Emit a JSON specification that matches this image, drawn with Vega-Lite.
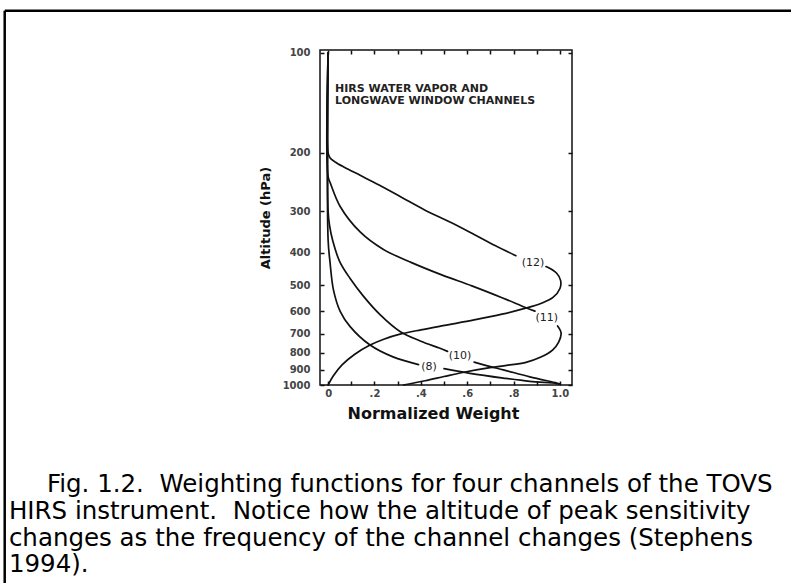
{
  "$schema": "https://vega.github.io/schema/vega-lite/v6.json",
  "width": 252,
  "height": 335,
  "autosize": "none",
  "padding": {"left": 320, "top": 50, "right": 219, "bottom": 198},
  "background": "white",
  "config": {
    "font": "DejaVu Sans",
    "view": {"stroke": "#111", "strokeWidth": 1.5}
  },
  "resolve": {"axis": {"x": "independent", "y": "independent"}},
  "layer": [
    {
      "data": {
        "values": [
          {"ch": "12", "s": "12a", "i": 0, "w": 0, "p": 100},
          {"ch": "12", "s": "12a", "i": 1, "w": 0, "p": 200},
          {"ch": "12", "s": "12a", "i": 2, "w": 0.008, "p": 207},
          {"ch": "12", "s": "12a", "i": 3, "w": 0.03, "p": 213},
          {"ch": "12", "s": "12a", "i": 4, "w": 0.07, "p": 221},
          {"ch": "12", "s": "12a", "i": 5, "w": 0.14, "p": 234},
          {"ch": "12", "s": "12a", "i": 6, "w": 0.22, "p": 250},
          {"ch": "12", "s": "12a", "i": 7, "w": 0.32, "p": 273},
          {"ch": "12", "s": "12a", "i": 8, "w": 0.42, "p": 298},
          {"ch": "12", "s": "12a", "i": 9, "w": 0.53, "p": 324},
          {"ch": "12", "s": "12a", "i": 10, "w": 0.63, "p": 352},
          {"ch": "12", "s": "12a", "i": 11, "w": 0.72, "p": 380},
          {"ch": "12", "s": "12a", "i": 12, "w": 0.81, "p": 408},
          {"ch": "12", "s": "12b", "i": 13, "w": 0.94, "p": 440},
          {"ch": "12", "s": "12b", "i": 14, "w": 0.985, "p": 460},
          {"ch": "12", "s": "12b", "i": 15, "w": 1.003, "p": 485},
          {"ch": "12", "s": "12b", "i": 16, "w": 1.0, "p": 512},
          {"ch": "12", "s": "12b", "i": 17, "w": 0.97, "p": 545},
          {"ch": "12", "s": "12b", "i": 18, "w": 0.92, "p": 567},
          {"ch": "12", "s": "12b", "i": 19, "w": 0.856, "p": 586},
          {"ch": "12", "s": "12b", "i": 20, "w": 0.75, "p": 612},
          {"ch": "12", "s": "12b", "i": 21, "w": 0.63, "p": 637},
          {"ch": "12", "s": "12b", "i": 22, "w": 0.51, "p": 660},
          {"ch": "12", "s": "12b", "i": 23, "w": 0.4, "p": 682},
          {"ch": "12", "s": "12b", "i": 24, "w": 0.31, "p": 703},
          {"ch": "12", "s": "12b", "i": 25, "w": 0.24, "p": 728},
          {"ch": "12", "s": "12b", "i": 26, "w": 0.181, "p": 758},
          {"ch": "12", "s": "12b", "i": 27, "w": 0.115, "p": 808},
          {"ch": "12", "s": "12b", "i": 28, "w": 0.06, "p": 870},
          {"ch": "12", "s": "12b", "i": 29, "w": 0.022, "p": 940},
          {"ch": "12", "s": "12b", "i": 30, "w": 0, "p": 1000},

          {"ch": "11", "s": "11a", "i": 0, "w": 0, "p": 100},
          {"ch": "11", "s": "11a", "i": 1, "w": 0, "p": 236},
          {"ch": "11", "s": "11a", "i": 2, "w": 0.01, "p": 247},
          {"ch": "11", "s": "11a", "i": 3, "w": 0.052, "p": 290},
          {"ch": "11", "s": "11a", "i": 4, "w": 0.138, "p": 346},
          {"ch": "11", "s": "11a", "i": 5, "w": 0.237, "p": 390},
          {"ch": "11", "s": "11a", "i": 6, "w": 0.36, "p": 428},
          {"ch": "11", "s": "11a", "i": 7, "w": 0.49, "p": 466},
          {"ch": "11", "s": "11a", "i": 8, "w": 0.62, "p": 503},
          {"ch": "11", "s": "11a", "i": 9, "w": 0.75, "p": 546},
          {"ch": "11", "s": "11a", "i": 10, "w": 0.856, "p": 586},
          {"ch": "11", "s": "11a", "i": 11, "w": 0.892, "p": 599},
          {"ch": "11", "s": "11b", "i": 12, "w": 0.99, "p": 664},
          {"ch": "11", "s": "11b", "i": 13, "w": 1.005, "p": 697},
          {"ch": "11", "s": "11b", "i": 14, "w": 0.995, "p": 741},
          {"ch": "11", "s": "11b", "i": 15, "w": 0.968, "p": 785},
          {"ch": "11", "s": "11b", "i": 16, "w": 0.918, "p": 824},
          {"ch": "11", "s": "11b", "i": 17, "w": 0.85, "p": 856},
          {"ch": "11", "s": "11b", "i": 18, "w": 0.77, "p": 873},
          {"ch": "11", "s": "11b", "i": 19, "w": 0.698, "p": 887},
          {"ch": "11", "s": "11b", "i": 20, "w": 0.58, "p": 917},
          {"ch": "11", "s": "11b", "i": 21, "w": 0.5, "p": 943},
          {"ch": "11", "s": "11b", "i": 22, "w": 0.418, "p": 971},
          {"ch": "11", "s": "11b", "i": 23, "w": 0.325, "p": 1000},

          {"ch": "10", "s": "10a", "i": 0, "w": 0, "p": 100},
          {"ch": "10", "s": "10a", "i": 1, "w": 0, "p": 300},
          {"ch": "10", "s": "10a", "i": 2, "w": 0.006, "p": 330},
          {"ch": "10", "s": "10a", "i": 3, "w": 0.02, "p": 368},
          {"ch": "10", "s": "10a", "i": 4, "w": 0.05, "p": 425},
          {"ch": "10", "s": "10a", "i": 5, "w": 0.095, "p": 478},
          {"ch": "10", "s": "10a", "i": 6, "w": 0.152, "p": 540},
          {"ch": "10", "s": "10a", "i": 7, "w": 0.224, "p": 614},
          {"ch": "10", "s": "10a", "i": 8, "w": 0.31, "p": 690},
          {"ch": "10", "s": "10a", "i": 9, "w": 0.4, "p": 738},
          {"ch": "10", "s": "10a", "i": 10, "w": 0.48, "p": 774},
          {"ch": "10", "s": "10a", "i": 11, "w": 0.515, "p": 792},
          {"ch": "10", "s": "10b", "i": 12, "w": 0.63, "p": 853},
          {"ch": "10", "s": "10b", "i": 13, "w": 0.7, "p": 880},
          {"ch": "10", "s": "10b", "i": 14, "w": 0.756, "p": 900},
          {"ch": "10", "s": "10b", "i": 15, "w": 0.87, "p": 945},
          {"ch": "10", "s": "10b", "i": 16, "w": 0.986, "p": 986},
          {"ch": "10", "s": "10b", "i": 17, "w": 1.0, "p": 992},

          {"ch": "8", "s": "8a", "i": 0, "w": 0, "p": 100},
          {"ch": "8", "s": "8a", "i": 1, "w": 0, "p": 366},
          {"ch": "8", "s": "8a", "i": 2, "w": 0.008, "p": 425},
          {"ch": "8", "s": "8a", "i": 3, "w": 0.023, "p": 517},
          {"ch": "8", "s": "8a", "i": 4, "w": 0.052, "p": 600},
          {"ch": "8", "s": "8a", "i": 5, "w": 0.095, "p": 667},
          {"ch": "8", "s": "8a", "i": 6, "w": 0.181, "p": 758},
          {"ch": "8", "s": "8a", "i": 7, "w": 0.28, "p": 823},
          {"ch": "8", "s": "8a", "i": 8, "w": 0.39, "p": 868},
          {"ch": "8", "s": "8b", "i": 9, "w": 0.5, "p": 893},
          {"ch": "8", "s": "8b", "i": 10, "w": 0.612, "p": 922},
          {"ch": "8", "s": "8b", "i": 11, "w": 0.756, "p": 953},
          {"ch": "8", "s": "8b", "i": 12, "w": 0.87, "p": 975},
          {"ch": "8", "s": "8b", "i": 13, "w": 0.986, "p": 990},
          {"ch": "8", "s": "8b", "i": 14, "w": 1.0, "p": 995}
        ]
      },
      "mark": {"type": "line", "color": "#111", "strokeWidth": 1.7, "strokeJoin": "round", "strokeCap": "round", "interpolate": "catmull-rom"},
      "encoding": {
        "x": {
          "field": "w",
          "type": "quantitative",
          "scale": {"domain": [-0.035, 1.052], "nice": false, "zero": false},
          "axis": {
            "orient": "bottom",
            "values": [0, 0.1, 0.2, 0.3, 0.4, 0.5, 0.6, 0.7, 0.8, 0.9, 1.0],
            "labelExpr": "datum.value == 0 ? '0' : datum.value == 1 ? '1.0' : (round(datum.value * 10) % 2 == 0 ? '.' + round(datum.value * 10) : '')",
            "domain": false,
            "grid": false,
            "tickSize": -4,
            "tickColor": "#111",
            "tickWidth": 1.5,
            "labelPadding": 7,
            "labelFont": "DejaVu Sans",
            "labelFontSize": 10,
            "labelFontWeight": "bold",
            "labelColor": "#444",
            "labelFlush": false,
            "title": "Normalized Weight",
            "titleFont": "DejaVu Sans",
            "titleFontSize": 16,
            "titleFontWeight": "bold",
            "titleColor": "#111",
            "titleX": 113,
            "titleY": 28,
            "titleBaseline": "middle"
          }
        },
        "y": {
          "field": "p",
          "type": "quantitative",
          "scale": {"type": "log", "domain": [98, 1000], "nice": false, "reverse": true},
          "axis": {
            "orient": "left",
            "values": [100, 200, 300, 400, 500, 600, 700, 800, 900, 1000],
            "format": "d",
            "domain": false,
            "grid": false,
            "tickSize": -4,
            "tickColor": "#111",
            "tickWidth": 1.5,
            "labelPadding": 14,
            "labelFont": "DejaVu Sans",
            "labelFontSize": 10,
            "labelFontWeight": "bold",
            "labelColor": "#444",
            "labelFlush": false,
            "title": "Altitude (hPa)",
            "titleFont": "DejaVu Sans",
            "titleFontSize": 13,
            "titleFontWeight": "bold",
            "titleColor": "#111",
            "titlePadding": 10
          }
        },
        "detail": {"field": "s"},
        "order": {"field": "i", "type": "quantitative"}
      }
    },
    {
      "data": {
        "values": [
          {"w": 0.884, "p": 429, "t": "(12)"},
          {"w": 0.943, "p": 630, "t": "(11)"},
          {"w": 0.569, "p": 820, "t": "(10)"},
          {"w": 0.435, "p": 881, "t": "(8)"}
        ]
      },
      "mark": {"type": "text", "font": "DejaVu Sans", "fontSize": 11, "color": "#222", "align": "center", "baseline": "middle"},
      "encoding": {
        "x": {
          "field": "w",
          "type": "quantitative",
          "axis": {
            "orient": "top",
            "values": [0, 0.1, 0.2, 0.3, 0.4, 0.5, 0.6, 0.7, 0.8, 0.9, 1.0],
            "labels": false,
            "domain": false,
            "grid": false,
            "tickSize": -4,
            "tickColor": "#111",
            "tickWidth": 1.5,
            "title": null
          }
        },
        "y": {
          "field": "p",
          "type": "quantitative",
          "axis": {
            "orient": "right",
            "values": [100, 200, 300, 400, 500, 600, 700, 800, 900, 1000],
            "labels": false,
            "domain": false,
            "grid": false,
            "tickSize": -4,
            "tickColor": "#111",
            "tickWidth": 1.5,
            "title": null
          }
        },
        "text": {"field": "t"}
      }
    },
    {
      "data": {
        "values": [
          {"w": 0.03, "p": 128.5, "t": "HIRS WATER VAPOR AND"},
          {"w": 0.03, "p": 139.5, "t": "LONGWAVE WINDOW CHANNELS"}
        ]
      },
      "mark": {"type": "text", "font": "DejaVu Sans", "fontSize": 11, "fontWeight": "bold", "color": "#222", "align": "left", "baseline": "middle"},
      "encoding": {
        "x": {"field": "w", "type": "quantitative", "axis": null},
        "y": {"field": "p", "type": "quantitative", "axis": null},
        "text": {"field": "t"}
      }
    },
    {
      "data": {
        "values": [
          {"line": 1, "w": -1.213, "p": 2099, "t": "Fig. 1.2.\u00a0 Weighting functions for four channels of the TOVS"},
          {"line": 2, "w": -1.377, "p": 2533, "t": "HIRS instrument.\u00a0 Notice how the altitude of peak sensitivity"},
          {"line": 3, "w": -1.377, "p": 3054, "t": "changes as the frequency of the channel changes (Stephens"},
          {"line": 4, "w": -1.377, "p": 3656, "t": "1994)."}
        ]
      },
      "mark": {"type": "text", "font": "DejaVu Sans", "fontSize": 24.5, "color": "#000", "align": "left", "baseline": "alphabetic"},
      "encoding": {
        "x": {"field": "w", "type": "quantitative", "axis": null},
        "y": {"field": "p", "type": "quantitative", "axis": null},
        "text": {"field": "t"}
      }
    },
    {
      "data": {
        "values": [
          {"edge": "top", "x1": -1.395, "x2": 2.2, "y1": 74.7, "y2": 74.7},
          {"edge": "left", "x1": -1.395, "x2": -1.395, "y1": 74.7, "y2": 6000}
        ]
      },
      "mark": {"type": "rule", "color": "#000", "strokeWidth": 2.5},
      "encoding": {
        "x": {"field": "x1", "type": "quantitative", "axis": null},
        "x2": {"field": "x2"},
        "y": {"field": "y1", "type": "quantitative", "axis": null},
        "y2": {"field": "y2"}
      }
    }
  ]
}
